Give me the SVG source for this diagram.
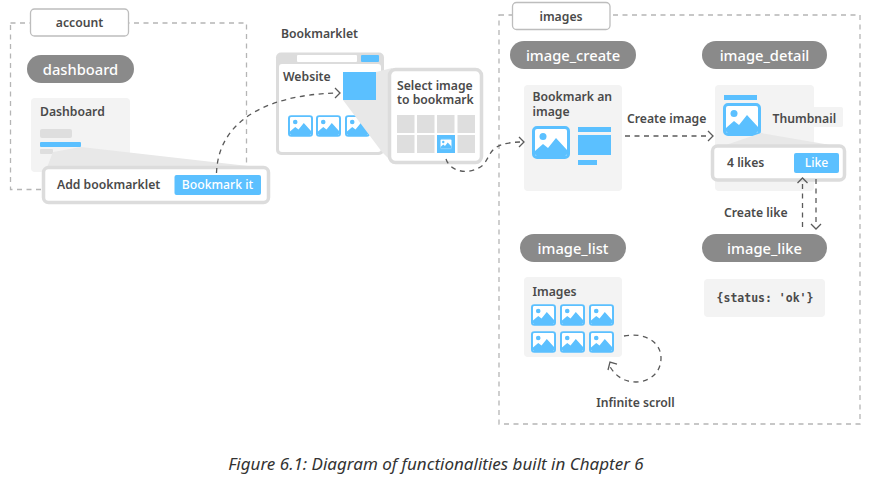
<svg xmlns="http://www.w3.org/2000/svg" xmlns:xlink="http://www.w3.org/1999/xlink" width="871" height="480" viewBox="0 0 871 480">
<style>
text{font-family:"Noto Sans","Open Sans",sans-serif;font-weight:600;fill:#4a4a4a;font-size:12.2px}
.m{text-anchor:middle}
.pill{fill:#8a8a8a}
.pt{fill:#fff;font-size:14.700px;font-weight:500;text-anchor:middle}
.card{fill:#f3f3f3}
.tag{fill:#fff;stroke:#bdbdbd;stroke-width:1.3}
.zone{fill:none;stroke:#b5b5b5;stroke-width:1.3;stroke-dasharray:5 4.5}
.blue{fill:#5bc0ff}
.gr{fill:#dedede}
.wedge{fill:#e8e8e8}
.pop{fill:#fff;stroke:#dcdcdc;stroke-width:3.5}
.conn{fill:none;stroke:#5a5a5a;stroke-width:1.3;stroke-dasharray:5 4.5}
.head{fill:none;stroke:#5a5a5a;stroke-width:1.3}
</style>
<defs>
<symbol id="ic" viewBox="0 0 38 33">
<rect x="1.500" y="1.500" width="35" height="30" rx="3.500" fill="#fff" stroke="#5bc0ff" stroke-width="3"/>
<circle cx="11" cy="10.500" r="3.500" fill="#5bc0ff"/>
<path d="M3 25 L11 18 L16 22 L24 12 L35 24 V28 Q35 30 33 30 H5 Q3 30 3 28Z" fill="#5bc0ff"/>
</symbol>
</defs>
<rect width="871" height="480" fill="#fff"/>
<g id="zone-account"><rect class="zone" x="10.500" y="23" width="236" height="166.500"/><rect class="tag" x="30.500" y="9" width="98" height="27" rx="4"/><text class="m" x="79.500" y="27">account</text></g>
<g id="zone-images"><rect class="zone" x="499" y="15" width="361" height="409"/><rect class="tag" x="512.500" y="2.500" width="97.500" height="27" rx="4"/><text class="m" x="561" y="20.500">images</text></g>
<g id="dashboard"><rect class="pill" x="27" y="55" width="107" height="28" rx="14"/><text class="pt" x="80.500" y="74.500">dashboard</text>
<rect class="card" x="31" y="98" width="99" height="74" rx="4"/><text x="40" y="116">Dashboard</text>
<rect class="gr" x="40" y="129" width="32" height="9" rx="2"/><rect class="blue" x="40" y="142" width="41" height="5" rx="1"/><rect class="gr" x="40" y="149" width="13" height="5" rx="1"/></g>
<g id="add-bookmarklet"><polygon class="wedge" points="46,170 53,152 81,147 248,166"/><rect class="pop" x="43.500" y="167.500" width="225" height="35" rx="5"/><text x="57" y="189">Add bookmarklet</text><rect class="blue" x="174.500" y="175" width="86.500" height="20" rx="2"/><text class="m" x="217.500" y="189" style="fill:#fff;font-weight:500">Bookmark it</text></g>
<g id="bookmarklet"><text x="281" y="38">Bookmarklet</text>
<rect x="276" y="52.500" width="108" height="102.500" rx="5" fill="#dcdcdc"/><rect x="279" y="64" width="102" height="88" rx="3" fill="#fff"/>
<rect x="297" y="55" width="60" height="7" rx="1" fill="#fff"/><rect class="blue" x="361" y="55" width="18" height="7" rx="1"/>
<text x="283" y="81">Website</text>
<use xlink:href="#ic" x="288" y="115" width="25" height="22"/><use xlink:href="#ic" x="316" y="115" width="25" height="22"/><use xlink:href="#ic" x="345" y="115" width="25" height="22"/>
<polygon class="wedge" points="343,100 376,72 392,68 392,162 382,152"/><rect class="blue" x="343" y="72" width="33" height="28"/></g>
<g id="select-image"><rect class="pop" x="389.500" y="69.500" width="92" height="93" rx="6"/>
<text><tspan x="397" y="89.500">Select image</tspan><tspan x="397" y="104">to bookmark</tspan></text>
<g class="gr"><rect x="397" y="115" width="17.500" height="18"/><rect x="417" y="115" width="17.500" height="18"/><rect x="437" y="115" width="17.500" height="18"/><rect x="457.500" y="115" width="17.500" height="18"/><rect x="397" y="135" width="17.500" height="18"/><rect x="417" y="135" width="17.500" height="18"/><rect x="457.500" y="135" width="17.500" height="18"/></g>
<rect class="blue" x="437" y="135" width="18" height="18"/><use xlink:href="#ic" x="439.500" y="138" width="13" height="12"/></g>
<g id="image_create"><rect class="pill" x="510" y="41" width="126" height="28" rx="14"/><text class="pt" x="573" y="60.500">image_create</text>
<rect class="card" x="524" y="85" width="98" height="106" rx="4"/><text><tspan x="532.500" y="101">Bookmark an</tspan><tspan x="532.500" y="116">image</tspan></text>
<use xlink:href="#ic" x="532" y="126" width="38" height="33"/>
<rect class="blue" x="578" y="127" width="33" height="5"/><rect class="blue" x="578" y="135" width="33" height="20"/><rect class="blue" x="578" y="160" width="19" height="5"/></g>
<g id="image_detail"><rect class="pill" x="702" y="41" width="125" height="28" rx="14"/><text class="pt" x="764.500" y="60.500">image_detail</text>
<rect class="card" x="715" y="85" width="99" height="106" rx="4"/><rect class="card" x="760" y="107" width="83" height="20" rx="2"/><text x="772.500" y="123">Thumbnail</text>
<rect class="blue" x="724" y="95" width="33" height="5"/><use xlink:href="#ic" x="723" y="103" width="38" height="33"/>
<polygon class="wedge" points="723,146 761,133 842,147"/>
<rect class="pop" x="712.500" y="146" width="132" height="34" rx="5"/><text x="727" y="167">4 likes</text><rect class="blue" x="794" y="153" width="45" height="20" rx="2"/><text class="m" x="816.500" y="167" style="fill:#fff;font-weight:500">Like</text></g>
<g id="image_list"><rect class="pill" x="520" y="234" width="106" height="28" rx="14"/><text class="pt" x="573" y="253.500">image_list</text>
<rect class="card" x="524" y="277" width="98" height="80" rx="4"/><text x="532.500" y="296">Images</text>
<use xlink:href="#ic" x="531" y="304" width="25" height="22"/><use xlink:href="#ic" x="560" y="304" width="25" height="22"/><use xlink:href="#ic" x="589" y="304" width="25" height="22"/><use xlink:href="#ic" x="531" y="331" width="25" height="22"/><use xlink:href="#ic" x="560" y="331" width="25" height="22"/><use xlink:href="#ic" x="589" y="331" width="25" height="22"/></g>
<g id="image_like"><rect class="pill" x="702" y="234" width="125" height="28" rx="14"/><text class="pt" x="764.500" y="253.500">image_like</text>
<rect class="card" x="704" y="279" width="121" height="38" rx="4"/><text class="m" x="765" y="302" style="font-family:'DejaVu Sans Mono','Liberation Mono',monospace;font-size:11.500px;font-weight:600">{status: 'ok'}</text></g>
<g id="connectors">
<path class="conn" d="M216.500 173 C218 125 260 95 337 93"/><path class="head" d="M335 88 L340 93 L335 98"/>
<path class="conn" d="M446 159 C450 172 470 176 483 165 C492 155 488 143 520 142"/><path class="head" d="M519 137 L524 142 L519 147"/>
<path class="conn" d="M625 136 H710"/><path class="head" d="M708 131 L713 136 L708 141"/>
<path class="conn" d="M802.500 227 V182"/><path class="head" d="M797.500 183 L802.500 178 L807.500 183"/>
<path class="conn" d="M816 179 V226"/><path class="head" d="M811 224 L816 229 L821 224"/>
<path class="conn" d="M624 336 C645 332 661 342 661 358 C661 374 648 382 636 382 C622 382 614 374 609 365"/><path class="head" d="M608 370 L610 362 L617 364"/>
</g>
<g id="labels"><text x="627" y="123">Create image</text><text x="724" y="217">Create like</text><text class="m" x="635.500" y="407">Infinite scroll</text></g>
<text class="m" x="436" y="470" style="font-style:italic;font-weight:400;font-size:17px;fill:#333">Figure 6.1: Diagram of functionalities built in Chapter 6</text>
</svg>
